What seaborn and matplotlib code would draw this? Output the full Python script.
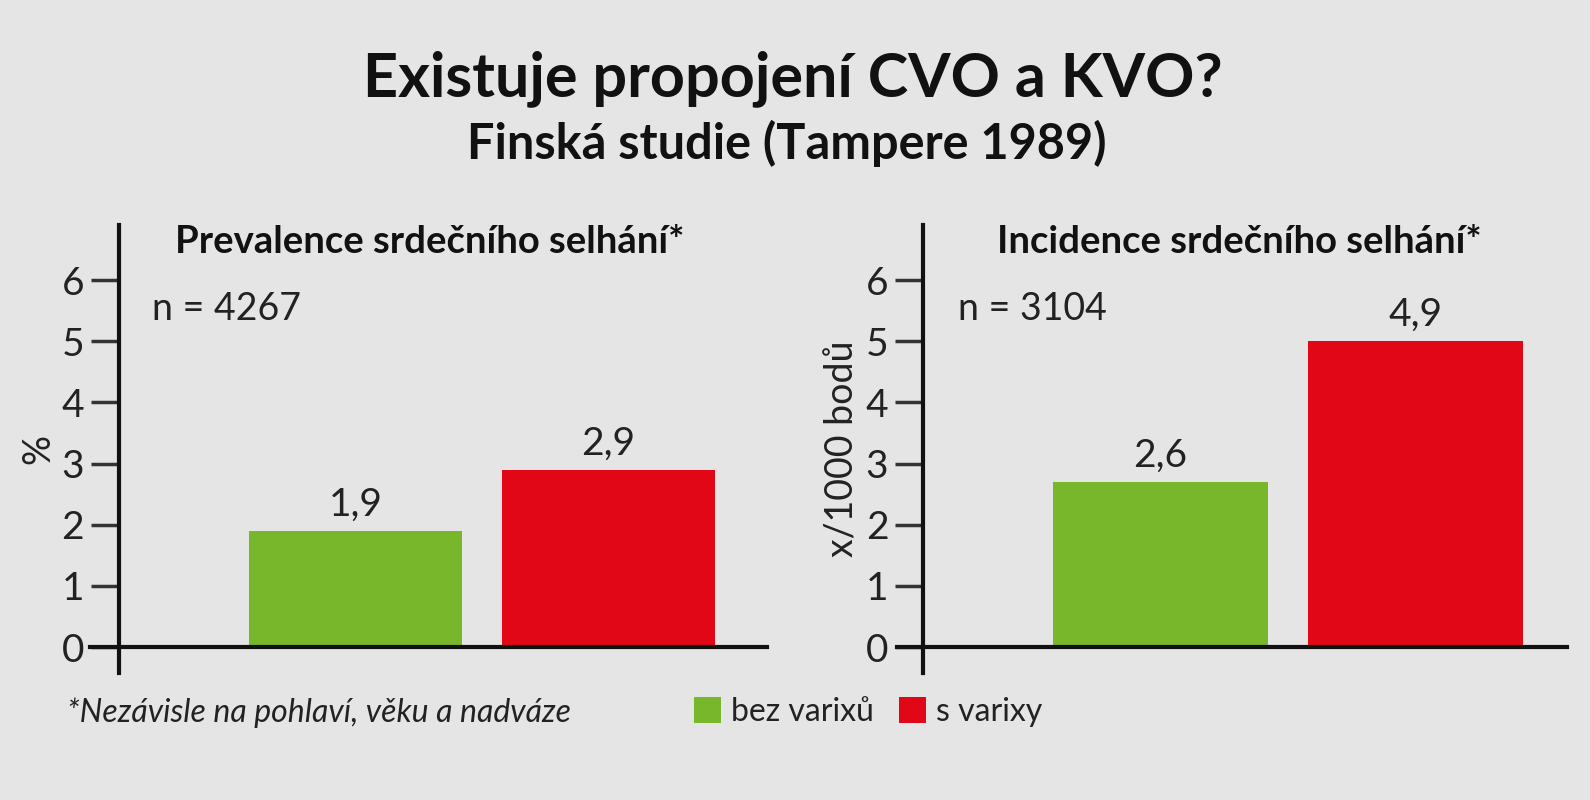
import matplotlib
matplotlib.use("Agg")
import matplotlib.pyplot as plt
from matplotlib.patches import Patch
import seaborn as sns
import pandas as pd

# data
groups = ['bez varixů', 's varixy']
prev_values = [1.9, 2.9]
prev_labels = ['1,9', '2,9']
inc_values = [2.7, 5.0]
inc_labels = ['2,6', '4,9']
y_ticks = [0, 1, 2, 3, 4, 5, 6]

colors = ['#78b72c', '#e20717']
bg = '#e5e5e5'

sns.set_style('white')
plt.rcParams['font.family'] = ['Lato', 'DejaVu Sans']

W, H = 1590, 800
fig = plt.figure(figsize=(W / 100, H / 100), dpi=100, facecolor=bg)


def px_axes(left, top, right, bottom):
    return fig.add_axes([left / W, 1 - bottom / H, (right - left) / W, (bottom - top) / H])


def panel(ax, values, labels, xlim, spine_x, ylabel):
    df = pd.DataFrame({'group': groups, 'value': values})
    sns.barplot(data=df, x='group', y='value', hue='group', palette=colors,
                width=0.845, dodge=False, legend=False, ax=ax, saturation=1,
                linewidth=0)
    ax.set_facecolor(bg)
    ax.set_xlim(*xlim)
    ax.set_ylim(-0.425, 6.9)
    for s in ['top', 'right']:
        ax.spines[s].set_visible(False)
    ax.spines['left'].set_position(('data', spine_x))
    ax.spines['bottom'].set_position(('data', 0))
    for s in ['left', 'bottom']:
        ax.spines[s].set_linewidth(3)
        ax.spines[s].set_color('#111111')
    ax.set_xticks([])
    ax.set_xlabel('')
    ax.set_yticks(y_ticks)
    ax.set_yticklabels([str(t) for t in y_ticks])
    ax.tick_params(axis='y', direction='out', length=20, width=2.5, color='#333333',
                   labelsize=28, pad=5, left=True, labelcolor='#222222')
    ax.set_ylabel(ylabel, fontsize=27, color='#222222', labelpad=4)
    for i, (v, lab) in enumerate(zip(values, labels)):
        ax.text(i, v + 0.25, lab, ha='center', va='baseline', fontsize=28, color='#222222')


ax1 = px_axes(90, 225, 767, 673)
panel(ax1, prev_values, prev_labels, (-1.049, 1.626), -0.935, '%')

ax2 = px_axes(897, 225, 1567, 673)
panel(ax2, inc_values, inc_labels, (-1.033, 1.595), -0.931, 'x/1000 bodů')

# titles
fig.text(793 / W, 1 - 96 / H, 'Existuje propojení CVO a KVO?', ha='center', va='baseline',
         fontsize=44, fontweight='bold', color='#111111')
fig.text(787 / W, 1 - 159 / H, 'Finská studie (Tampere 1989)', ha='center', va='baseline',
         fontsize=35, fontweight='bold', color='#111111')
fig.text(430 / W, 1 - 253 / H, 'Prevalence srdečního selhání*', ha='center', va='baseline',
         fontsize=27.5, fontweight='bold', color='#111111')
fig.text(1239 / W, 1 - 253 / H, 'Incidence srdečního selhání*', ha='center', va='baseline',
         fontsize=27.5, fontweight='bold', color='#111111')
fig.text(152 / W, 1 - 320 / H, 'n = 4267', ha='left', va='baseline', fontsize=27, color='#222222')
fig.text(958 / W, 1 - 320 / H, 'n = 3104', ha='left', va='baseline', fontsize=27, color='#222222')

fig.text(67 / W, 1 - 722 / H, '*Nezávisle na pohlaví, věku a nadváze', ha='left', va='baseline',
         fontsize=23, style='italic', color='#222222')

handles = [Patch(facecolor=c, edgecolor='none') for c in colors]
fig.legend(handles, groups, loc='center left', bbox_to_anchor=(694 / W, 1 - 712 / H),
           ncol=2, frameon=False, fontsize=23, handlelength=0.85, handleheight=0.85,
           handletextpad=0.3, columnspacing=0.8, borderpad=0, borderaxespad=0,
           labelcolor='#222222')

fig.savefig('out.png', dpi=100, facecolor=bg)
